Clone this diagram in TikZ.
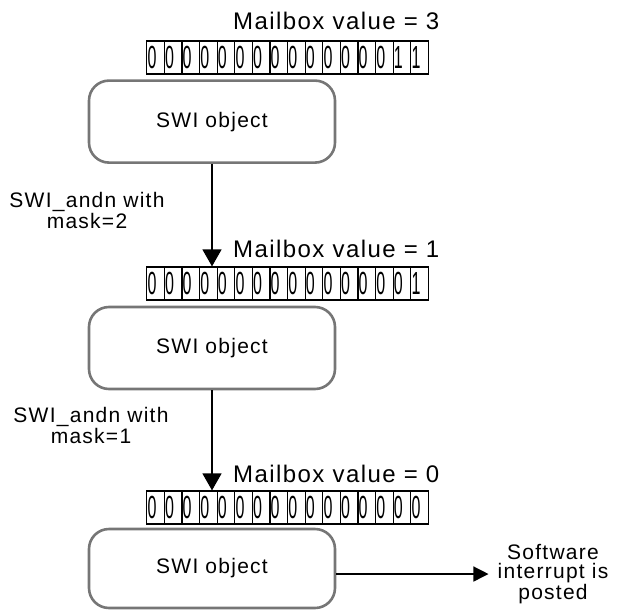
\documentclass[tikz,border=0pt]{standalone}
\usepackage{fontspec}
\setmainfont{Liberation Sans}
\newfontfamily\lblfont[LetterSpace=6]{Liberation Sans}
\newfontfamily\digitfont[FakeStretch=0.5]{Liberation Sans}
\usetikzlibrary{arrows.meta,calc}
\definecolor{boxgray}{RGB}{118,118,118}
\newcommand\cellbit[1]{\makebox[17.6pt][l]{\kern0.8pt#1}}
\begin{document}
\begin{tikzpicture}[x=1pt,y=-1pt,
  cell/.style={draw=black, line width=1.2pt, minimum width=17.6pt, minimum height=33pt,
    inner sep=0pt, font=\digitfont\fontsize{32}{32}\selectfont},
  swibox/.style={draw=boxgray, line width=2.6pt, rounded corners=20pt, minimum width=246pt,
    minimum height=82pt, inner sep=0pt, font=\lblfont\fontsize{21}{21}\selectfont},
  mbtext/.style={anchor=base west, inner sep=0pt, font=\lblfont\fontsize{24}{24}\selectfont},
  lbl/.style={align=center, inner sep=0pt, anchor=north, font=\lblfont\fontsize{21}{21}\selectfont},
  flow/.style={draw=black, line width=1.3pt, -{Triangle[width=19pt,length=17pt]}},
  flowr/.style={draw=black, line width=1.3pt, -{Triangle[width=15pt,length=15pt]}},
]
\useasboundingbox (0,0) rectangle (618,610);

% mailbox texts
\node[mbtext] (mb1) at (233,30) {Mailbox value = 3};
\node[mbtext] (mb2) at (233,257) {Mailbox value = 1};
\node[mbtext] (mb3) at (233,482) {Mailbox value = 0};

% bit rows
\foreach \i in {1,...,16}{
  \pgfmathsetmacro\cx{146.7+17.6*(\i-0.5)}
  \node[cell] (ra\i) at (\cx,57.5) {\cellbit{\ifnum\i>14 1\else 0\fi}};
  \node[cell] (rb\i) at (\cx,283.5) {\cellbit{\ifnum\i>15 1\else 0\fi}};
  \node[cell] (rc\i) at (\cx,507.5) {\cellbit{0}};
}

% SWI objects
\node[swibox] (b1) at (212,121.6) {SWI object};
\node[swibox] (b2) at (212,348) {SWI object};
\node[swibox, minimum height=79pt] (b3) at (212,568.5) {SWI object};

% labels
\node[lbl] (l1) at (87,192) {SWI\_andn with\\mask=2};
\node[lbl] (l2) at (91,407.5) {SWI\_andn with\\mask=1};
\node[lbl, inner xsep=9pt, font=\lblfont\fontsize{21}{19.5}\selectfont] (sw) at (553,544)
  {Software\\interrupt is\\posted};

% connectors
\draw[flow] (b1.south) -- (b1.south |- rb5.north);
\draw[flow] (b2.south) -- (b2.south |- rc5.north);
\draw[flowr] (b3.east |- sw.west) -- (sw.west);
\end{tikzpicture}
\end{document}
